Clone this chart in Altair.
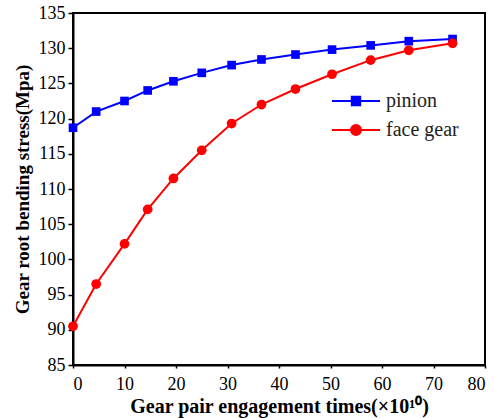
import altair as alt
import pandas as pd

engagement = [0, 4.5, 10, 14.5, 19.5, 25, 30.8, 36.6, 43.2, 50.3, 57.8, 65.2, 73.7]
pinion = [118.7, 121.0, 122.5, 124.0, 125.3, 126.5, 127.6, 128.4, 129.1, 129.8, 130.4, 131.0, 131.3]
face_gear = [90.5, 96.5, 102.2, 107.1, 111.5, 115.5, 119.3, 122.0, 124.2, 126.3, 128.3, 129.7, 130.7]
series_names = ["pinion", "face gear"]
series_colors = ["#0000FF", "#FF0000"]

df = pd.DataFrame({
    "x": engagement * 2,
    "y": pinion + face_gear,
    "series": [series_names[0]] * len(engagement) + [series_names[1]] * len(engagement),
})

FONT = "Liberation Serif"

xenc = alt.X("x:Q", scale=alt.Scale(domain=[0, 80], nice=False),
             axis=alt.Axis(values=list(range(0, 81, 10)),
                           title="Gear pair engagement times(×10¹⁰)",
                           tickSize=3, labelPadding=7, titlePadding=3, titleFontSize=20))
yenc = alt.Y("y:Q", scale=alt.Scale(domain=[85, 135], nice=False, zero=False),
             axis=alt.Axis(values=list(range(85, 136, 5)),
                           title="Gear root bending stress(Mpa)",
                           tickSize=5, labelPadding=3, titlePadding=6, titleFontSize=19))

base = alt.Chart(df)

def series_layers(name, color, shape, size):
    sub = base.transform_filter(alt.datum.series == name)
    line = sub.mark_line(color=color, strokeWidth=2).encode(x=xenc, y=yenc)
    pts = sub.mark_point(shape=shape, filled=True, opacity=1, color=color, size=size).encode(x=xenc, y=yenc)
    return [line, pts]

square_path = "M-2.4,0H2.4M-0.42,-0.42H0.42V0.42H-0.42Z"
circle_path = "M-2.4,0H2.4M0.5,0A0.5,0.5 0 1,1 -0.5,0A0.5,0.5 0 1,1 0.5,0Z"

legend_layer = base.transform_filter("false").mark_point(filled=True, size=400, opacity=1, strokeWidth=2).encode(
    x=xenc, y=yenc,
    fill=alt.Fill("series:N", scale=alt.Scale(domain=series_names, range=series_colors),
                  legend=alt.Legend(title=None)),
    stroke=alt.Stroke("series:N", scale=alt.Scale(domain=series_names, range=series_colors),
                      legend=alt.Legend(title=None)),
    shape=alt.Shape("series:N", scale=alt.Scale(domain=series_names, range=[square_path, circle_path]),
                    legend=alt.Legend(title=None)),
)

layers = series_layers("pinion", "#0000FF", "square", 75) + series_layers("face gear", "#FF0000", "circle", 95) + [legend_layer]

chart = alt.layer(*layers).properties(
    width=412, height=352,
    autosize=alt.AutoSizeParams(type="none"),
    padding={"left": 73, "top": 13, "right": 9, "bottom": 53},
).configure_view(
    stroke="black", strokeWidth=2
).configure_axis(
    grid=False, domainColor="black", domainWidth=2, tickColor="black", tickWidth=1.5,
    labelColor="black", labelFont=FONT, labelFontSize=18,
    titleColor="black", titleFont=FONT, titleFontWeight="bold",
).configure_legend(
    orient="none", legendX=272, legendY=77, labelFont=FONT, labelFontSize=20,
    labelColor="#222222", labelOffset=19, rowPadding=8, symbolStrokeWidth=2,
    symbolSize=400, padding=0,
)

chart.save("out.html", embed_options={"renderer": "svg", "actions": False})
